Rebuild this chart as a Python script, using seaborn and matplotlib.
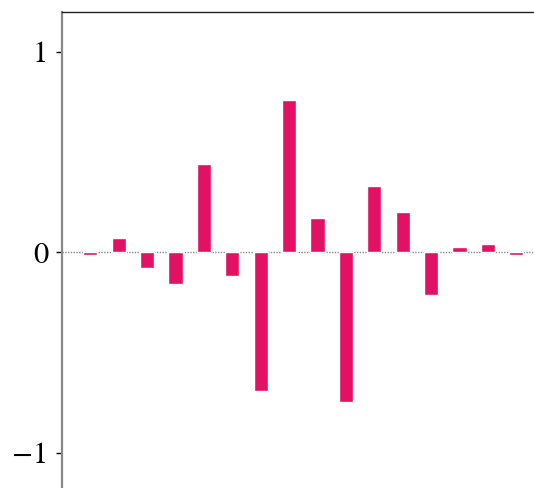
import numpy as np
import pandas as pd
import matplotlib
matplotlib.use("Agg")
import matplotlib.pyplot as plt
import seaborn as sns

# valores (16 barras)
posiciones = list(range(16))
valores = [-0.012, 0.07, -0.075, -0.155, 0.44, -0.115, -0.69, 0.76,
           0.17, -0.745, 0.33, 0.20, -0.21, 0.026, 0.04, -0.015]
ticks_y = [-1, 0, 1]
etiquetas_y = ["\u22121", "0", "1"]

df = pd.DataFrame({"pos": posiciones, "valor": valores})

sns.set_style("white")
plt.rcParams["font.family"] = ["STIXGeneral", "DejaVu Serif"]

fig = plt.figure(figsize=(5.34, 4.88), dpi=100)
ax = fig.add_axes([62 / 534, -0.0102, 0.904, 0.9856])

sns.barplot(data=df, x="pos", y="valor", color="#e31163", width=0.5,
            saturation=1, ax=ax, native_scale=True)

ax.axhline(0, color="#888888", linestyle=(0, (1, 1)), linewidth=1.0, zorder=0)

ax.set_xlim(-1, 16)
ax.set_ylim(-1.2, 1.2)
ax.set_yticks(ticks_y)
ax.set_yticklabels(etiquetas_y, fontsize=22, color="black")
ax.set_xticks([])
ax.set_xlabel("")
ax.set_ylabel("")
ax.tick_params(axis="y", left=True, length=4, width=1, color="black", pad=6)

ax.spines["left"].set_color("#888888")
ax.spines["left"].set_linewidth(1.6)
ax.spines["top"].set_color("#222222")
ax.spines["top"].set_linewidth(1.0)

plt.savefig("out.png", dpi=100)
